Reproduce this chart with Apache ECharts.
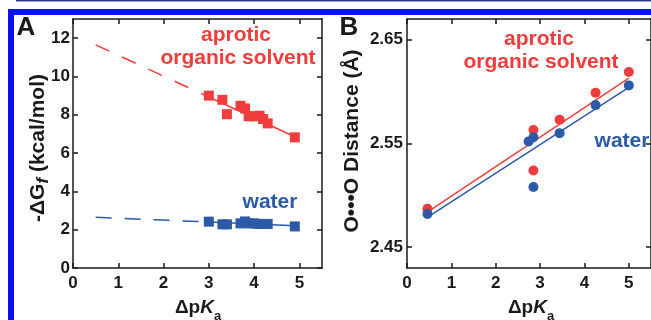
<!DOCTYPE html>
<html><head><meta charset="utf-8">
<script src="https://cdn.jsdelivr.net/npm/echarts@6/dist/echarts.min.js"></script>
<style>html,body{margin:0;padding:0;background:#fff}#c{width:651px;height:320px}</style>
</head><body><div id="c"></div>
<script>
// ---- Panel A data ----
const aTicksX = [0, 1, 2, 3, 4, 5];
const aTicksY = [0, 2, 4, 6, 8, 10, 12];
const aRedX  = [3.0, 3.3, 3.4, 3.7, 3.8, 3.88, 4.02, 4.12, 4.2, 4.3, 4.9];
const aRedY  = [9.0, 8.78, 8.03, 8.47, 8.33, 7.92, 7.92, 7.95, 7.78, 7.55, 6.82];
const aBlueX = [3.0, 3.3, 3.4, 3.7, 3.8, 3.9, 4.0, 4.1, 4.2, 4.3, 4.9];
const aBlueY = [2.42, 2.28, 2.28, 2.33, 2.43, 2.33, 2.33, 2.3, 2.3, 2.3, 2.17];
const aRedFitX  = [0.5, 3.0, 4.9];
const aRedFitY  = [11.65, 8.93, 6.85];
const aBlueFitX = [0.5, 3.0, 4.9];
const aBlueFitY = [2.65, 2.40, 2.20];
// ---- Panel B data ----
const bTicksX = [0, 1, 2, 3, 4, 5];
const bTicksY = [2.45, 2.55, 2.65];
const bRedX  = [0.46, 2.85, 2.85, 3.44, 4.25, 5.0];
const bRedY  = [2.487, 2.563, 2.524, 2.573, 2.599, 2.619];
const bBlueX = [0.46, 2.74, 2.85, 2.85, 3.44, 4.25, 5.0];
const bBlueY = [2.482, 2.552, 2.556, 2.508, 2.560, 2.587, 2.606];
const bRedFitX  = [0.5, 5.0];
const bRedFitY  = [2.485, 2.613];
const bBlueFitX = [0.5, 5.0];
const bBlueFitY = [2.480, 2.604];

const RED = '#f03c3c', BLUE = '#2c5aa8', INK = '#1a1a1a';
const FONT = 'Liberation Sans, Arial, sans-serif';
const zip = (xs, ys) => xs.map((x, i) => [x, ys[i]]);

function axis(type, gridIndex, pos, min, max, ticks, showLabel, margin) {
  return {
    type: 'value', gridIndex, position: pos, min, max,
    splitLine: {show: false},
    axisLine: {show: true, onZero: false, lineStyle: {color: INK, width: 1.5}},
    axisTick: {show: true, inside: true, length: 5, customValues: ticks, lineStyle: {color: INK, width: 1.5}},
    axisLabel: {show: showLabel, customValues: ticks, margin, color: INK,
      fontFamily: FONT, fontWeight: 'bold', fontSize: 17},
  };
}

const chart = echarts.init(document.getElementById('c'), null, {renderer: 'canvas'});
chart.setOption({
  backgroundColor: '#fff',
  animation: false,
  grid: [
    {left: 73, top: 19, width: 249, height: 249},
    {left: 407, top: 19, width: 249, height: 249},
  ],
  xAxis: [
    axis('x', 0, 'bottom', 0, 5.5, aTicksX, true, 7),
    axis('x', 0, 'top', 0, 5.5, aTicksX, false, 7),
    axis('x', 1, 'bottom', 0, 5.5, bTicksX, true, 7),
    axis('x', 1, 'top', 0, 5.5, bTicksX, false, 7),
  ],
  yAxis: [
    axis('y', 0, 'left', 0, 13, aTicksY, true, 3),
    axis('y', 0, 'right', 0, 13, aTicksY, false, 3),
    axis('y', 1, 'left', 2.43, 2.67, bTicksY, true, 4),
    axis('y', 1, 'right', 2.43, 2.67, bTicksY, false, 4),
  ],
  series: [
    {type: 'line', xAxisIndex: 0, yAxisIndex: 0, data: zip(aRedFitX.slice(0, 2), aRedFitY.slice(0, 2)),
      symbol: 'none', lineStyle: {color: RED, width: 1.5, type: [15, 14]}},
    {type: 'line', xAxisIndex: 0, yAxisIndex: 0, data: zip(aRedFitX.slice(1), aRedFitY.slice(1)),
      symbol: 'none', lineStyle: {color: RED, width: 1.5}},
    {type: 'line', xAxisIndex: 0, yAxisIndex: 0, data: zip(aBlueFitX.slice(0, 2), aBlueFitY.slice(0, 2)),
      symbol: 'none', lineStyle: {color: BLUE, width: 1.5, type: [16, 13]}},
    {type: 'line', xAxisIndex: 0, yAxisIndex: 0, data: zip(aBlueFitX.slice(1), aBlueFitY.slice(1)),
      symbol: 'none', lineStyle: {color: BLUE, width: 1.5}},
    {type: 'scatter', xAxisIndex: 0, yAxisIndex: 0, data: zip(aRedX, aRedY), symbol: 'rect',
      symbolSize: 10, itemStyle: {color: RED, opacity: 1}, z: 5},
    {type: 'scatter', xAxisIndex: 0, yAxisIndex: 0, data: zip(aBlueX, aBlueY), symbol: 'rect',
      symbolSize: 10, itemStyle: {color: BLUE, opacity: 1}, z: 5},
    {type: 'line', xAxisIndex: 2, yAxisIndex: 2, data: zip(bRedFitX, bRedFitY),
      symbol: 'none', lineStyle: {color: RED, width: 1.5}},
    {type: 'line', xAxisIndex: 2, yAxisIndex: 2, data: zip(bBlueFitX, bBlueFitY),
      symbol: 'none', lineStyle: {color: BLUE, width: 1.5}},
    {type: 'scatter', xAxisIndex: 2, yAxisIndex: 2, data: zip(bRedX, bRedY), symbol: 'circle',
      symbolSize: 10, itemStyle: {color: RED, opacity: 1}, z: 5},
    {type: 'scatter', xAxisIndex: 2, yAxisIndex: 2, data: zip(bBlueX, bBlueY), symbol: 'circle',
      symbolSize: 10, itemStyle: {color: BLUE, opacity: 1}, z: 6},
  ],
  graphic: [
    {type: 'rect', shape: {x: 16, y: 0, width: 640, height: 1.5}, style: {fill: '#2d3d8f'}, z: 100},
    {type: 'rect', shape: {x: 8, y: 9, width: 648, height: 6}, style: {fill: '#0a12f5'}, z: 100},
    {type: 'rect', shape: {x: 8, y: 9, width: 6, height: 320}, style: {fill: '#0a12f5'}, z: 100},
    txt('A', 26, 28, 'bold 26px ' + FONT, INK),
    txt('B', 349, 28, 'bold 26px ' + FONT, INK),
    txt('aprotic', 236, 35, 'bold 21px ' + FONT, RED),
    txt('organic solvent', 238, 58, 'bold 21px ' + FONT, RED),
    txt('water', 270, 202, 'bold 21px ' + FONT, BLUE),
    txt('aprotic', 539, 39, 'bold 21px ' + FONT, RED),
    txt('organic solvent', 541, 62, 'bold 21px ' + FONT, RED),
    txt('water', 622, 141, 'bold 21px ' + FONT, BLUE),
    richTxt('{m|Δp}{k|K}{s|a}', 198, 308, 0, 19),
    richTxt('{m|Δp}{k|K}{s|a}', 531, 308, 0, 19),
    richTxt('{m|-ΔG}{f|f}{m| (kcal/mol)}', 38, 148, Math.PI / 2, 21),
    {type: 'text', x: 352, y: 141, rotation: Math.PI / 2, z: 50,
      style: {text: 'O•••O Distance (Å)', font: 'bold 21px ' + FONT, fill: INK,
        align: 'center', verticalAlign: 'middle', textAlign: 'center', textVerticalAlign: 'middle'}},
  ],
});

function txt(t, x, y, font, color) {
  return {type: 'text', x, y, z: 50,
    style: {text: t, font, fill: color, align: 'center', verticalAlign: 'middle',
      textAlign: 'center', textVerticalAlign: 'middle'}};
}
function richTxt(t, x, y, rot, fs) {
  return {type: 'text', x, y, rotation: rot, z: 50,
    style: {text: t, fill: INK, align: 'center', verticalAlign: 'middle',
      textAlign: 'center', textVerticalAlign: 'middle',
      rich: {
        m: {fontFamily: FONT, fontWeight: 'bold', fontSize: fs, fill: INK, color: INK},
        k: {fontFamily: FONT, fontWeight: 'bold', fontStyle: 'italic', fontSize: fs, fill: INK, color: INK},
        s: {fontFamily: FONT, fontWeight: 'bold', fontSize: 13, fill: INK, color: INK, padding: [16, 0, 0, 0]},
        f: {fontFamily: FONT, fontWeight: 'bold', fontStyle: 'italic', fontSize: fs - 4, fill: INK, color: INK, padding: [10, 0, 0, 0]},
      }}};
}
</script></body></html>
